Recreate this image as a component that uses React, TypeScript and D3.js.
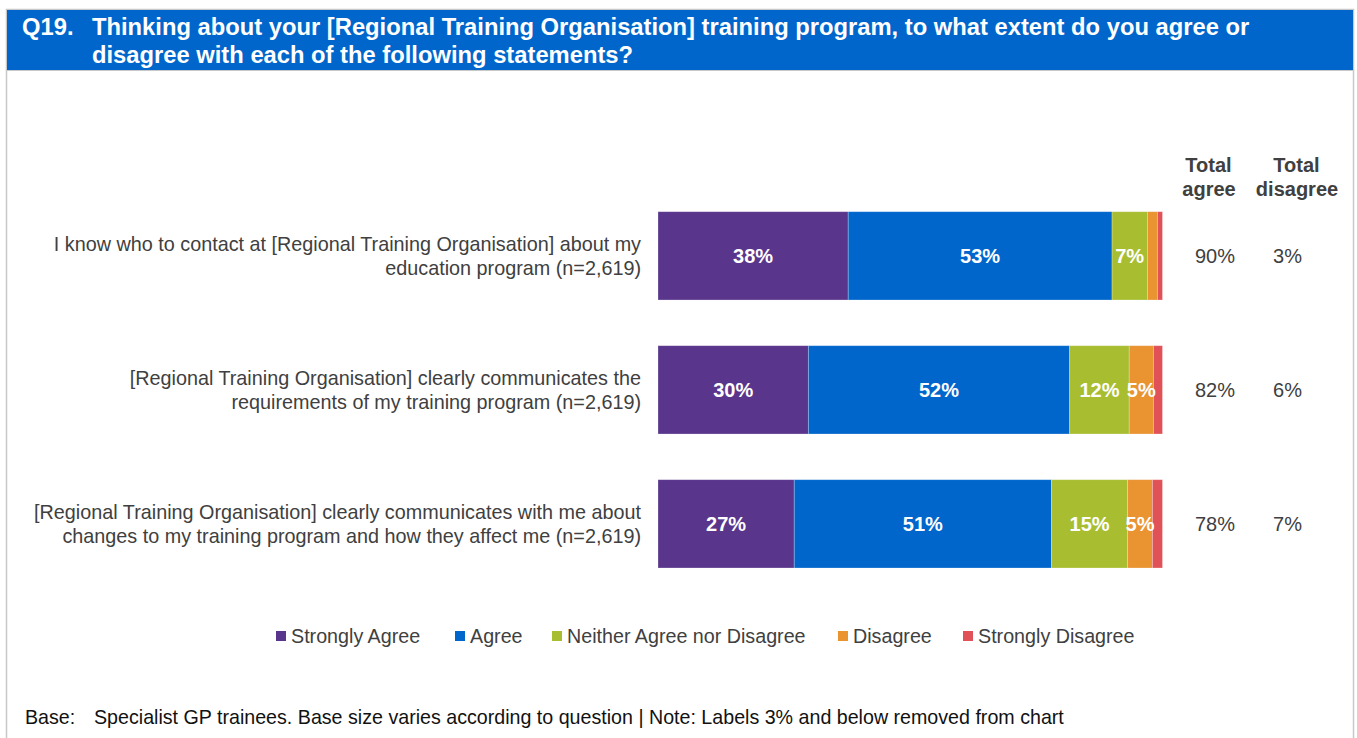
import React from "react";
import * as d3 from "d3";

const categories = [
  ["I know who to contact at [Regional Training Organisation] about my", "education program (n=2,619)"],
  ["[Regional Training Organisation] clearly communicates the", "requirements of my training program (n=2,619)"],
  ["[Regional Training Organisation] clearly communicates with me about", "changes to my training program and how they affect me (n=2,619)"],
];
const seriesNames = ["Strongly Agree", "Agree", "Neither Agree nor Disagree", "Disagree", "Strongly Disagree"];
const seriesColors = ["#59358C", "#0066CC", "#A9BD31", "#E99331", "#E05257"];
const stronglyAgree = [37.7, 29.8, 27.0];
const agree = [52.3, 51.8, 51.0];
const neither = [7.0, 11.8, 15.1];
const disagree = [2.0, 4.8, 4.9];
const stronglyDisagree = [1.0, 1.8, 2.0];
const segmentLabels = [
  ["38%", "53%", "7%", "", ""],
  ["30%", "52%", "12%", "5%", ""],
  ["27%", "51%", "15%", "5%", ""],
];
const totalAgree = ["90%", "82%", "78%"];
const totalDisagree = ["3%", "6%", "7%"];

const W = 1357;
const H = 738;
const FONT = "'Liberation Sans', Arial, sans-serif";
const TEXT = "#404040";

export default function App() {
  const series = [stronglyAgree, agree, neither, disagree, stronglyDisagree];
  const x = d3.scaleLinear().domain([0, 100]).range([658, 1162.5]);
  const idx = categories.map((_, i) => String(i));
  const y = d3
    .scaleBand<string>()
    .domain(idx)
    .range([188.85, 590.85])
    .paddingInner(0.341)
    .paddingOuter(0.1705);

  const rows = categories.map((_, i) => {
    let acc = 0;
    return series.map((s, k) => {
      const x0 = acc;
      acc += s[i];
      return { k, x0, x1: acc };
    });
  });

  const legendX = [276, 455, 552, 838, 963];

  return (
    <svg
      width={W}
      height={H}
      style={{ position: "absolute", left: 0, top: 0, background: "#fff" }}
      fontFamily={FONT}
    >
      {/* frame */}
      <rect x={6.5} y={9.5} width={1347} height={740} fill="#fff" stroke="#c8c8c8" strokeWidth={1.5} />
      <rect x={7} y={10} width={1346} height={60} fill="#0066CC" />
      <line x1={7} x2={1353} y1={70.5} y2={70.5} stroke="#c8c8c8" strokeWidth={1} />
      <g fill="#fff" fontWeight="bold" fontSize={23.75}>
        <text x={22} y={35}>Q19.</text>
        <text x={92} y={35}>
          Thinking about your [Regional Training Organisation] training program, to what extent do you agree or
        </text>
        <text x={92} y={63}>disagree with each of the following statements?</text>
      </g>

      {/* column headers */}
      <g fill={TEXT} fontWeight="bold" fontSize={20} textAnchor="middle">
        <text x={1208.5} y={172}>Total</text>
        <text x={1209} y={196}>agree</text>
        <text x={1296.5} y={172}>Total</text>
        <text x={1297} y={196}>disagree</text>
      </g>

      {rows.map((segs, i) => {
        const yb = y(String(i))!;
        const bh = y.bandwidth();
        const cy = yb + bh / 2;
        return (
          <g key={i}>
            <text fill={TEXT} fontSize={19.8} textAnchor="end">
              <tspan x={641} y={cy - 4.5}>{categories[i][0]}</tspan>
              <tspan x={641} y={cy + 19.5}>{categories[i][1]}</tspan>
            </text>
            {segs.map((s) => (
              <rect
                key={s.k}
                x={x(s.x0)}
                y={yb}
                width={x(s.x1) - x(s.x0)}
                height={bh}
                fill={seriesColors[s.k]}
                stroke="#ffffff"
                strokeOpacity={0.35}
                strokeWidth={0.75}
              />
            ))}
            {segs.map((s) =>
              segmentLabels[i][s.k] ? (
                <text
                  key={"l" + s.k}
                  x={(x(s.x0) + x(s.x1)) / 2}
                  y={cy + 7}
                  fill="#fff"
                  fontWeight="bold"
                  fontSize={20}
                  textAnchor="middle"
                >
                  {segmentLabels[i][s.k]}
                </text>
              ) : null
            )}
            <text x={1215} y={cy + 7} fill={TEXT} fontSize={20} textAnchor="middle">
              {totalAgree[i]}
            </text>
            <text x={1287.5} y={cy + 7} fill={TEXT} fontSize={20} textAnchor="middle">
              {totalDisagree[i]}
            </text>
          </g>
        );
      })}

      {/* legend */}
      <g fontSize={19.7} fill={TEXT}>
        {seriesNames.map((n, k) => (
          <g key={n}>
            <rect x={legendX[k]} y={631} width={10} height={10} fill={seriesColors[k]} />
            <text x={legendX[k] + 15} y={643}>{n}</text>
          </g>
        ))}
      </g>

      {/* footer */}
      <g fontSize={19.65} fill="#111">
        <text x={25} y={724}>Base:</text>
        <text x={94} y={724}>
          Specialist GP trainees. Base size varies according to question | Note: Labels 3% and below removed from chart
        </text>
      </g>
    </svg>
  );
}
